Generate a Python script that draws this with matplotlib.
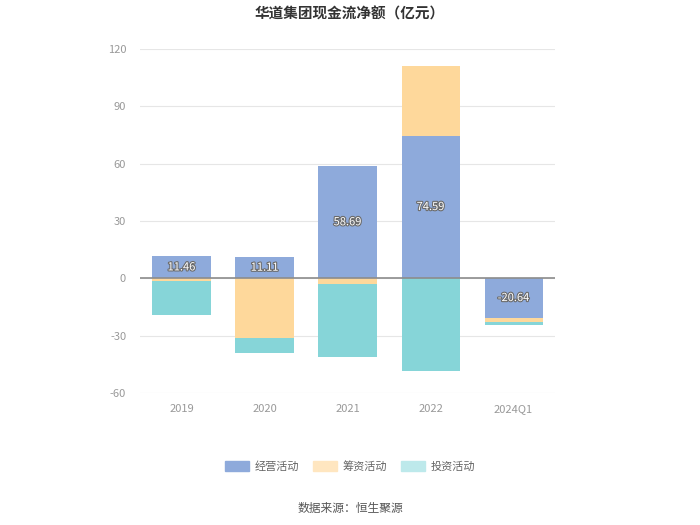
import matplotlib.pyplot as plt
import matplotlib.patheffects as pe
from matplotlib.patches import Patch
import numpy as np

plt.rcParams['font.family'] = ['Noto Sans CJK SC', 'DejaVu Sans']
plt.rcParams['axes.unicode_minus'] = False

years = ["2019", "2020", "2021", "2022", "2024Q1"]
operating = [11.46, 11.11, 58.69, 74.59, -20.64]
financing = [-1.5, -31.4, -2.8, 36.3, -2.1]
investing = [-17.7, -7.6, -38.3, -48.4, -1.9]

names = ["经营活动", "筹资活动", "投资活动"]
colors = ["#8eaadb", "#fed89b", "#86d5d8"]
legend_colors = ["#8eaadb", "#ffe6c0", "#bde9eb"]

fig = plt.figure(figsize=(7, 5.25), dpi=100)
ax = fig.add_axes([0.2, 0.2514, 0.593, 0.6553])

x = np.arange(len(years))
pos_base = np.zeros(len(years))
neg_base = np.zeros(len(years))
for vals, c in zip([operating, financing, investing], colors):
    vals = np.array(vals)
    bottoms = np.where(vals >= 0, pos_base, neg_base)
    ax.bar(x, vals, 0.7, bottom=bottoms, color=c, zorder=2)
    pos_base += np.where(vals >= 0, vals, 0)
    neg_base += np.where(vals < 0, vals, 0)

for i, v in enumerate(operating):
    ax.text(x[i], v / 2, f"{v:.2f}", ha='center', va='center', fontsize=8,
            color='white', zorder=4,
            path_effects=[pe.withStroke(linewidth=1.6, foreground='#6b6b6b')])

ax.axhline(0, color='#8c8c8c', lw=1.2, zorder=3)
ax.set_ylim(-60, 120)
ax.set_yticks(range(-60, 121, 30))
ax.set_xlim(-0.5, len(years) - 0.5)
ax.set_xticks(x)
ax.set_xticklabels(years)
ax.grid(axis='y', color='#e6e6e6', lw=0.8, zorder=0)
ax.tick_params(axis='both', length=0, labelsize=8, colors='#999999')
ax.tick_params(axis='x', pad=8)
ax.tick_params(axis='y', pad=10)
for s in ax.spines.values():
    s.set_visible(False)

fig.text(0.5, 0.975, "华道集团现金流净额（亿元）", ha='center', va='center',
         fontsize=10.5, fontweight='bold', color='#333333')

handles = [Patch(color=c, label=n) for c, n in zip(legend_colors, names)]
fig.legend(handles=handles, loc='center', bbox_to_anchor=(0.5, 0.112), ncol=3,
           frameon=False, fontsize=8, handlelength=2.2, handleheight=1.0,
           columnspacing=1.2, handletextpad=0.5, labelcolor='#666666')

fig.text(0.5, 0.032, "数据来源：恒生聚源", ha='center', va='center',
         fontsize=8.5, color='#555555')

fig.savefig("out.png", dpi=100)
